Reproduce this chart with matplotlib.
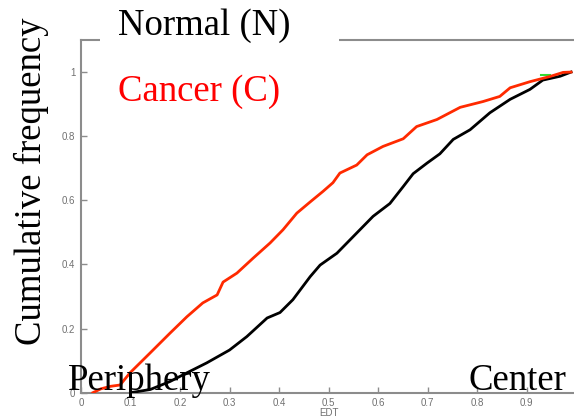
import matplotlib
matplotlib.use("Agg")
import matplotlib.pyplot as plt
from matplotlib.patches import Rectangle

# Cancer (C) cumulative distribution of EDT
cancer_x = [0.024, 0.04, 0.06, 0.079, 0.099, 0.139, 0.18, 0.214, 0.246, 0.275,
            0.287, 0.315, 0.348, 0.382, 0.408, 0.436, 0.463, 0.489, 0.509,
            0.523, 0.557, 0.578, 0.61, 0.651, 0.678, 0.719, 0.766, 0.812,
            0.846, 0.867, 0.907, 0.947, 0.974, 0.99]
cancer_y = [0.0, 0.012, 0.02, 0.024, 0.062, 0.123, 0.186, 0.237, 0.28, 0.305,
            0.345, 0.373, 0.42, 0.467, 0.508, 0.56, 0.595, 0.628, 0.655,
            0.685, 0.71, 0.742, 0.768, 0.792, 0.83, 0.852, 0.89, 0.908,
            0.924, 0.951, 0.97, 0.986, 0.999, 1.0]

# Normal (N) cumulative distribution of EDT
normal_x = [0.10, 0.14, 0.18, 0.214, 0.254, 0.30, 0.335, 0.376, 0.402, 0.428,
            0.463, 0.483, 0.517, 0.557, 0.59, 0.624, 0.651, 0.671, 0.699,
            0.725, 0.752, 0.786, 0.826, 0.867, 0.907, 0.933, 0.968, 0.99]
normal_y = [0.0, 0.01, 0.035, 0.062, 0.093, 0.133, 0.175, 0.233, 0.25, 0.29,
            0.362, 0.398, 0.435, 0.498, 0.55, 0.59, 0.643, 0.683, 0.716,
            0.745, 0.79, 0.82, 0.873, 0.915, 0.946, 0.975, 0.987, 1.0]

# small visible piece of a third (green) curve near the top
green_x = [0.93, 0.948]
green_y = [0.99, 0.99]

x_ticks = [0, 0.1, 0.2, 0.3, 0.4, 0.5, 0.6, 0.7, 0.8, 0.9, 1.0]
x_tick_labels = ["0", "0.1", "0.2", "0.3", "0.4", "0.5", "0.6", "0.7", "0.8", "0.9", "1"]
y_ticks = [0, 0.2, 0.4, 0.6, 0.8, 1.0]
y_tick_labels = ["0", "0.2", "0.4", "0.6", "0.8", "1"]

W, H = 574, 419
fig = plt.figure(figsize=(W / 100, H / 100), dpi=100)
fig.patch.set_facecolor("white")

left = 81 / W
right = 576 / W
bottom = 1 - 392.7 / H
top = 1 - 40 / H
ax = fig.add_axes([left, bottom, right - left, top - bottom])

ax.plot(green_x, green_y, color="#33dd33", lw=1.5, zorder=2)
ax.plot(normal_x, normal_y, color="black", lw=2.0, zorder=3)
ax.plot(cancer_x, cancer_y, color="#ff2a00", lw=2.0, zorder=4)

ax.set_xlim(0, 1.0)
ax.set_ylim(0, 1.1)
ax.set_xticks(x_ticks)
ax.set_xticklabels(x_tick_labels)
ax.set_yticks(y_ticks)
ax.set_yticklabels(y_tick_labels)

spine_col = "#8c8c8c"
for s in ["left", "bottom", "top"]:
    ax.spines[s].set_color(spine_col)
    ax.spines[s].set_linewidth(1.5)
ax.spines["right"].set_visible(False)
ax.tick_params(direction="in", length=4, width=1, colors=spine_col,
               labelcolor="#707070", labelsize=7, pad=4)
for lab in ax.get_xticklabels() + ax.get_yticklabels():
    lab.set_family(["Liberation Sans", "DejaVu Sans"])
ax.set_xlabel("EDT", fontsize=7, color="#707070", labelpad=0,
              family=["Liberation Sans", "DejaVu Sans"])

# white box hiding part of the top frame behind the "Normal (N)" label
fig.patches.append(Rectangle((100 / W, 1 - 50 / H), (339 - 100) / W, 20 / H,
                             transform=fig.transFigure, facecolor="white",
                             edgecolor="none", zorder=5))

serif = ["Liberation Serif", "DejaVu Serif"]
fs = 26.5
fig.text(118 / W, 1 - 35 / H, "Normal (N)", fontsize=fs, family=serif,
         color="black", ha="left", va="baseline", zorder=6)
fig.text(118 / W, 1 - 101 / H, "Cancer (C)", fontsize=fs, family=serif,
         color="#ff0000", ha="left", va="baseline", zorder=6)
fig.text(68 / W, 1 - 390 / H, "Periphery", fontsize=fs, family=serif,
         color="black", ha="left", va="baseline", zorder=6)
fig.text(566 / W, 1 - 390 / H, "Center", fontsize=fs, family=serif,
         color="black", ha="right", va="baseline", zorder=6)
fig.text(31 / W, 1 - 181 / H, "Cumulative frequency", fontsize=fs, family=serif,
         color="black", ha="center", va="center", rotation=90, zorder=6)

fig.savefig("out.png", dpi=100)
